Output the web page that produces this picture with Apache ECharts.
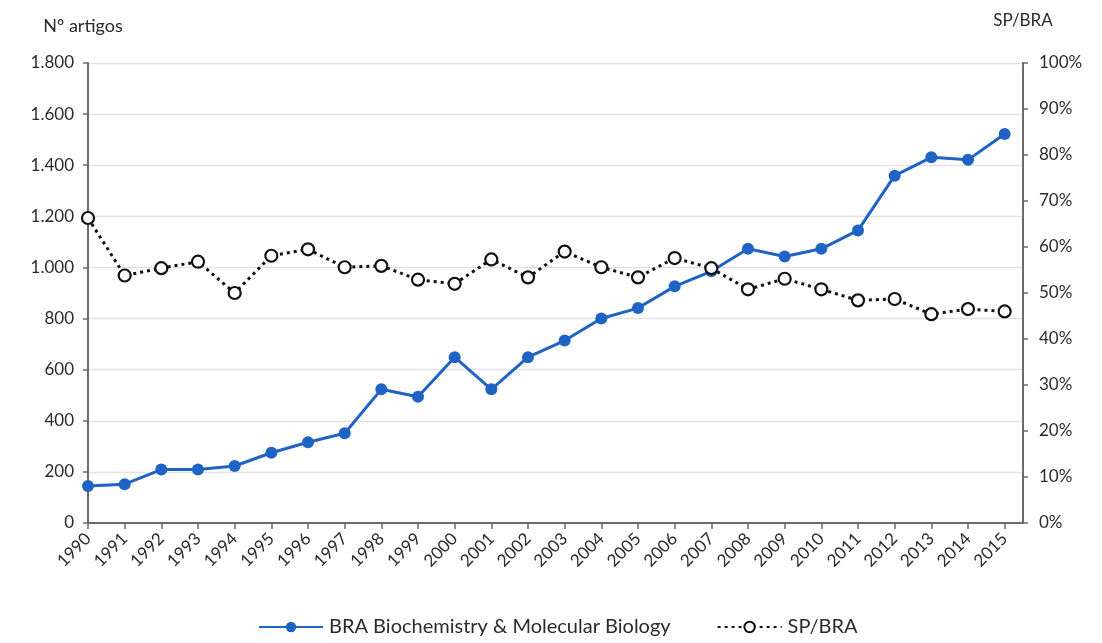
<!DOCTYPE html>
<html>
<head>
<meta charset="utf-8">
<script src="https://cdn.jsdelivr.net/npm/echarts@6/dist/echarts.min.js"></script>
<style>
  html, body { margin: 0; padding: 0; background: #fff; }
  #chart { width: 1102px; height: 643px; }
</style>
</head>
<body>
<div id="chart"></div>
<script>
// years on the category axis
var years = [1990, 1991, 1992, 1993, 1994, 1995, 1996, 1997, 1998, 1999, 2000, 2001, 2002,
             2003, 2004, 2005, 2006, 2007, 2008, 2009, 2010, 2011, 2012, 2013, 2014, 2015];
// nº artigos BRA
var braArtigos = [145, 152, 209, 209, 223, 275, 316, 351, 523, 494, 649, 523, 649,
                  714, 800, 841, 926, 985, 1073, 1043, 1073, 1145, 1359, 1431, 1421, 1522];
// SP/BRA share (%)
var spBra = [66.3, 53.8, 55.4, 56.8, 50.0, 58.1, 59.5, 55.6, 55.9, 52.9, 52.0, 57.3, 53.4,
             59.0, 55.6, 53.4, 57.6, 55.4, 50.8, 53.1, 50.8, 48.4, 48.7, 45.4, 46.5, 46.0];
var leftTicks = [0, 1800, 200];
var rightTicks = [0, 100, 10];

function pairs(vals) {
  return years.map(function (y, i) { return [y, vals[i]]; });
}

function thousands(v) {
  if (v >= 1000) return Math.floor(v / 1000) + '.' + String(v % 1000).padStart(3, '0');
  return String(v);
}

var font = 'Lato, "Open Sans", sans-serif';
var txt = '#2b2b2b';
var axisCol = '#6b6b6b';

var myChart = echarts.init(document.getElementById('chart'));

var option = {
  animation: false,
  textStyle: { fontFamily: font },
  grid: { left: 88, right: 79, top: 63, bottom: 120 },
  legend: {
    top: 612,
    left: 253,
    itemGap: 46,
    itemWidth: 64,
    itemHeight: 13,
    textStyle: { fontSize: 20, color: txt, fontFamily: font, padding: [0, 0, 0, 1] },
    data: ['BRA Biochemistry & Molecular Biology', 'SP/BRA']
  },
  xAxis: {
    type: 'value',
    min: 1990,
    max: 2015.5,
    interval: 1,
    axisLine: { lineStyle: { color: axisCol, width: 2 } },
    axisTick: { show: true, length: 6, lineStyle: { color: axisCol, width: 1.5 } },
    splitLine: { show: false },
    axisLabel: {
      rotate: 45,
      margin: 13,
      fontSize: 17,
      color: txt,
      showMaxLabel: false,
      formatter: function (v) { return v % 1 === 0 ? String(v) : ''; }
    }
  },
  yAxis: [
    {
      type: 'value',
      name: 'Nº artigos',
      nameLocation: 'end',
      nameGap: 28,
      nameTextStyle: { fontSize: 18, color: txt, align: 'center', padding: [0, 10, 0, 0] },
      min: leftTicks[0],
      max: leftTicks[1],
      interval: leftTicks[2],
      axisLine: { show: true, lineStyle: { color: axisCol, width: 2 } },
      axisTick: { show: true, length: 5, lineStyle: { color: axisCol, width: 1.5 } },
      splitLine: { lineStyle: { color: '#e2e2e2', width: 1.3 } },
      axisLabel: { fontSize: 17, color: txt, margin: 14, formatter: thousands }
    },
    {
      type: 'value',
      name: 'SP/BRA',
      nameLocation: 'end',
      nameGap: 34,
      nameTextStyle: { fontSize: 17, color: txt },
      min: rightTicks[0],
      max: rightTicks[1],
      interval: rightTicks[2],
      axisLine: { show: true, lineStyle: { color: axisCol, width: 2 } },
      axisTick: { show: true, length: 5, lineStyle: { color: axisCol, width: 1.5 } },
      splitLine: { show: false },
      axisLabel: { fontSize: 17, color: txt, margin: 16, formatter: '{value}%' }
    }
  ],
  series: [
    {
      name: 'BRA Biochemistry & Molecular Biology',
      type: 'line',
      yAxisIndex: 0,
      data: pairs(braArtigos),
      symbol: 'circle',
      symbolSize: 12,
      color: '#1f64c4',
      lineStyle: { color: '#1f64c4', width: 3 },
      itemStyle: { color: '#1f64c4' }
    },
    {
      name: 'SP/BRA',
      type: 'line',
      yAxisIndex: 1,
      data: pairs(spBra),
      symbol: 'circle',
      symbolSize: 12,
      color: '#111',
      lineStyle: { color: '#111', width: 3, type: [3, 4] },
      itemStyle: { color: '#fff', borderColor: '#111', borderWidth: 2.2 }
    }
  ]
};

myChart.setOption(option);
window.addEventListener('resize', function () {
  myChart.resize();
});
</script>
</body>
</html>
